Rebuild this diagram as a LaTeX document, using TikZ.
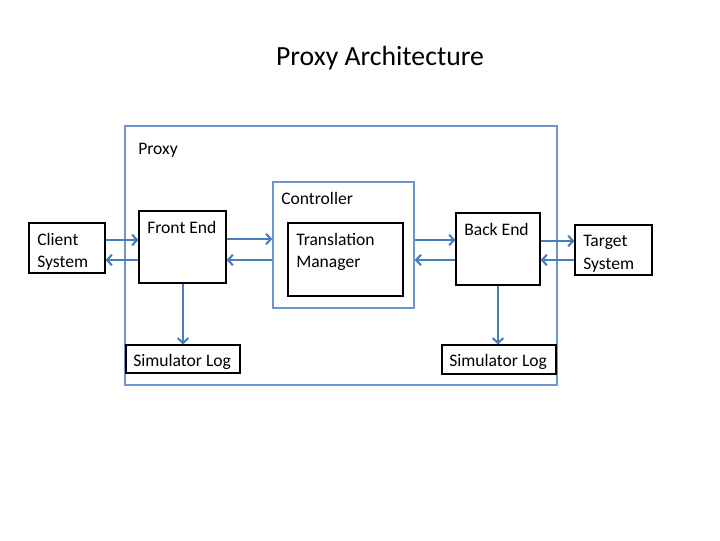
\documentclass[tikz,border=0pt]{standalone}
\usepackage{fontspec}
\setmainfont{Carlito}
\usetikzlibrary{fit,arrows.meta}
\definecolor{flowblue}{HTML}{4A7EBB}
\definecolor{frameblue}{HTML}{6D97CC}
\tikzset{
  blk/.style={draw=black, line width=0.75pt, inner sep=0pt, rectangle},
  frame/.style={draw=frameblue, line width=0.9pt, inner sep=0pt, rectangle},
  txt/.style={anchor=north west, inner sep=0pt, align=left, font=\fontsize{12.5}{16}\selectfont},
  flow/.style={draw=flowblue, line width=2.1pt, -{Straight Barb[length=3.5pt,width=7.5pt,line width=1.5pt]}}
}
\begin{document}
\begin{tikzpicture}[x=0.025cm, y=-0.025cm]
  \useasboundingbox[fill=white] (0,0) rectangle (720,540);

  \node[font=\fontsize{19.7}{24}\selectfont] (title) at (380,58) {Proxy Architecture};

  % outer frames
  \node[frame, fit={(125,126) (557,385)}] (proxy) {};
  \node[frame, fit={(273,182) (414,308)}] (ctrl) {};

  % boxes
  \node[blk, fit={(29,223) (105,273)}] (client) {};
  \node[blk, fit={(139,211) (226,283)}] (front) {};
  \node[blk, fit={(288,223) (403,296)}] (trans) {};
  \node[blk, fit={(456,213) (540,285)}] (back) {};
  \node[blk, fit={(575,225) (652,275)}] (target) {};
  \node[blk, fill=white, fit={(126,345) (240,373)}] (logl) {};
  \node[blk, fill=white, fit={(442,345) (556,374)}] (logr) {};

  % texts
  \node[txt] (proxytxt) at (138,143) {Proxy};
  \node[txt] (ctrltxt) at (281,192) {Controller};
  \node[txt] (clienttxt) at (37,233) {Client\\System};
  \node[txt] (fronttxt) at (147,221) {Front End};
  \node[txt] (transtxt) at (296,233) {Translation\\Manager};
  \node[txt] (backtxt) at (464,223) {Back End};
  \node[txt] (targettxt) at (583,235) {Target\\System};
  \node[txt] (logltxt) at (133,354) {Simulator Log};
  \node[txt] (logrtxt) at (449,354) {Simulator Log};

  % connectors
  \draw[flow] (client.east |- 0,240) -- (front.west |- 0,240);
  \draw[flow] (front.west |- 0,260) -- (client.east |- 0,260);
  \draw[flow] (front.east |- 0,239) -- (ctrl.west |- 0,239);
  \draw[flow] (ctrl.west |- 0,260) -- (front.east |- 0,260);
  \draw[flow] (ctrl.east |- 0,240) -- (back.west |- 0,240);
  \draw[flow] (back.west |- 0,260) -- (ctrl.east |- 0,260);
  \draw[flow] (back.east |- 0,241) -- (target.west |- 0,241);
  \draw[flow] (target.west |- 0,260) -- (back.east |- 0,260);
  \draw[flow] (front.south -| 183,0) -- (logl.north -| 183,0);
  \draw[flow] (back.south -| 498,0) -- (logr.north -| 498,0);
\end{tikzpicture}
\end{document}
